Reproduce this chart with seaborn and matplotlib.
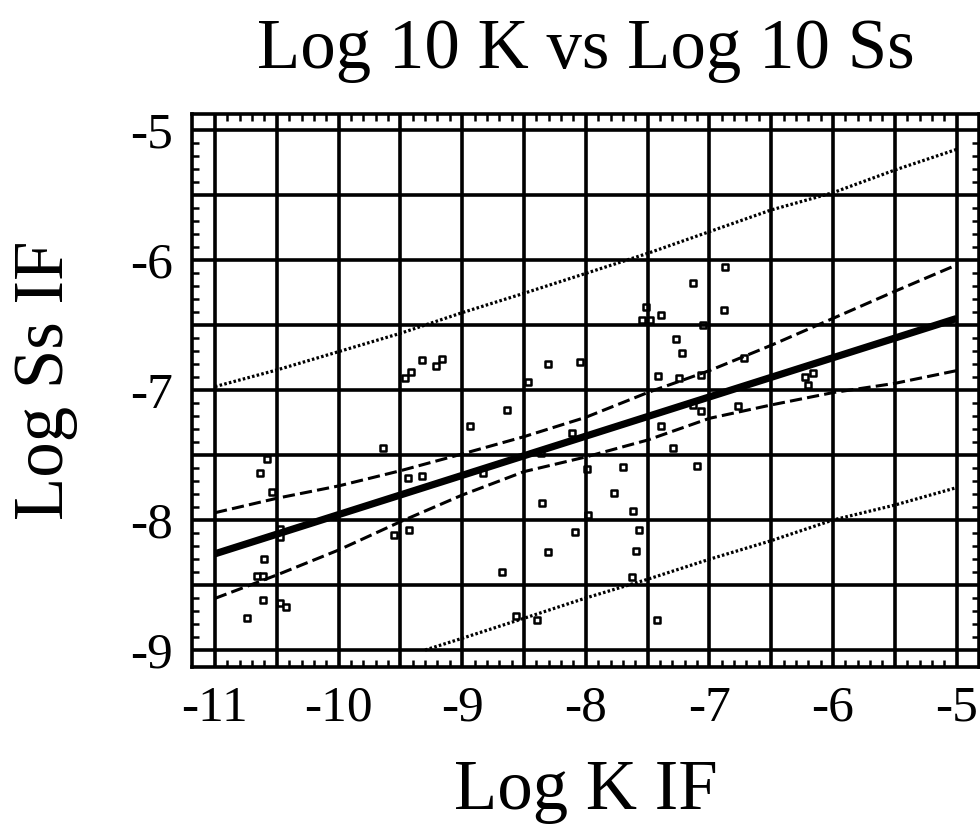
import numpy as np
import pandas as pd
import matplotlib
matplotlib.use("Agg")
import matplotlib.pyplot as plt
from matplotlib.ticker import MultipleLocator, FixedLocator, FuncFormatter
import seaborn as sns

# ---- data ----
log_k = [-9.463, -9.414, -9.328, -9.214, -9.161, -8.465, -8.303, -8.047,
         -7.515, -7.543, -7.478, -7.392, -7.135, -6.874, -6.882, -7.049,
         -7.270, -7.222, -7.413, -7.243, -7.068, -6.723, -6.227, -6.162,
         -6.200, -8.640, -8.937, -9.643, -8.114, -10.582, -10.636, -10.536,
         -9.441, -9.323, -8.362, -8.834, -8.357, -7.990, -10.474, -10.474,
         -9.549, -9.430, -10.604, -10.663, -10.609, -8.087, -8.303, -8.681,
         -10.609, -10.474, -10.428, -10.739, -8.565, -8.392, -7.130, -7.068,
         -6.766, -7.394, -7.297, -7.701, -7.098, -7.769, -7.616, -7.981,
         -7.567, -7.594, -7.629, -7.422]
log_ss = [-6.910, -6.864, -6.769, -6.813, -6.762, -6.941, -6.800, -6.787,
          -6.364, -6.462, -6.462, -6.423, -6.174, -6.051, -6.385, -6.500,
          -6.610, -6.718, -6.890, -6.905, -6.885, -6.752, -6.897, -6.872,
          -6.962, -7.154, -7.274, -7.446, -7.328, -7.533, -7.636, -7.787,
          -7.679, -7.659, -7.487, -7.641, -7.867, -7.610, -8.069, -8.128,
          -8.115, -8.077, -8.300, -8.428, -8.428, -8.092, -8.246, -8.400,
          -8.615, -8.636, -8.667, -8.751, -8.738, -8.769, -7.115, -7.159,
          -7.123, -7.274, -7.443, -7.590, -7.582, -7.795, -7.928, -7.962,
          -8.077, -8.236, -8.441, -8.769]

fit_x = [-11.0, -5.0]
fit_y = [-8.26, -6.45]

band_x = [-11.0, -10.5, -10.0, -9.5, -9.0, -8.5, -8.0, -7.5, -7.0, -6.5, -6.0, -5.5, -5.0]
conf_upper = [-7.944, -7.833, -7.738, -7.621, -7.492, -7.359, -7.210, -7.020,
              -6.851, -6.656, -6.449, -6.241, -6.038]
conf_lower = [-8.603, -8.423, -8.231, -8.013, -7.808, -7.628, -7.515, -7.385,
              -7.218, -7.115, -7.020, -6.949, -6.851]
pred_upper = [-6.974, -6.846, -6.705, -6.564, -6.405, -6.256, -6.103, -5.949,
              -5.782, -5.615, -5.482, -5.308, -5.149]
pred_lower_x = [-9.3, -9.0, -8.5, -8.0, -7.5, -7.0, -6.5, -6.0, -5.5, -5.0]
pred_lower = [-9.0, -8.91, -8.756, -8.60, -8.456, -8.302, -8.159, -8.0, -7.885, -7.751]

title = "Log 10 K vs Log 10 Ss"
xlabel = "Log K IF"
ylabel = "Log Ss IF"

# ---- styling ----
sns.set_style("white")
plt.rcParams['font.family'] = ['Liberation Serif', 'DejaVu Serif']
for key in ("text.color", "axes.labelcolor", "xtick.color", "ytick.color"):
    plt.rcParams[key] = "black"

fig = plt.figure(figsize=(9.8, 8.27), dpi=100)
W, H = 980, 827
left, right, top, bottom = 192, 979, 114, 667
ax = fig.add_axes([left / W, (H - bottom) / H, (right - left) / W, (bottom - top) / H])

pts = pd.DataFrame({"k": log_k, "ss": log_ss})
sns.scatterplot(data=pts, x="k", y="ss", ax=ax, marker="s", s=20,
                facecolor="white", edgecolor="black", linewidth=1.8, zorder=1)

sns.lineplot(x=fit_x, y=fit_y, ax=ax, color="black", linewidth=5.2,
             solid_capstyle="butt", zorder=4)
for yy in (conf_upper, conf_lower):
    sns.lineplot(x=band_x, y=yy, ax=ax, color="black", linewidth=2.2,
                 linestyle=(0, (4.0, 1.7)), zorder=4)
sns.lineplot(x=band_x, y=pred_upper, ax=ax, color="black", linewidth=2.3,
             linestyle=(0, (0.8, 0.7)), zorder=4)
sns.lineplot(x=pred_lower_x, y=pred_lower, ax=ax, color="black", linewidth=2.3,
             linestyle=(0, (0.8, 0.7)), zorder=4)

ppx = 123.6
ppy = 130.0
x0 = -11 - (215 - left) / ppx
y0 = -9 - (bottom - 650) / ppy
ax.set_xlim(x0, x0 + (right - left) / ppx)
ax.set_ylim(y0, y0 + (bottom - top) / ppy)

ax.xaxis.set_major_locator(MultipleLocator(0.5))
ax.yaxis.set_major_locator(MultipleLocator(0.5))
ax.xaxis.set_minor_locator(FixedLocator(np.arange(-11, -4.99, 0.1)))
ax.yaxis.set_minor_locator(FixedLocator(np.arange(-9, -4.99, 0.1)))


def fmt(v, pos):
    r = round(v)
    return f"{int(r)}" if abs(v - r) < 1e-6 else ""


ax.xaxis.set_major_formatter(FuncFormatter(fmt))
ax.yaxis.set_major_formatter(FuncFormatter(fmt))

ax.set_axisbelow(False)
ax.grid(True, which="major", color="black", linewidth=2.6)
ax.tick_params(which="major", length=0, labelsize=37, pad=13, labelcolor="black")
ax.tick_params(axis="y", which="major", pad=14)
ax.tick_params(which="minor", direction="in", length=5, width=1.8,
               top=True, right=True, bottom=True, left=True, color="black")
for sp in ax.spines.values():
    sp.set_visible(True)
    sp.set_color("black")
    sp.set_linewidth(2.6)

ax.set_title(title, fontsize=51, pad=33, color="black")
ax.set_xlabel(xlabel, fontsize=51, color="black")
ax.set_ylabel(ylabel, fontsize=51, color="black")
ax.xaxis.set_label_coords(0.5, (bottom - 759) / (bottom - top))
ax.yaxis.set_label_coords((78 - left) / (right - left), (bottom - 380) / (bottom - top))

fig.savefig("out.png", dpi=100)
